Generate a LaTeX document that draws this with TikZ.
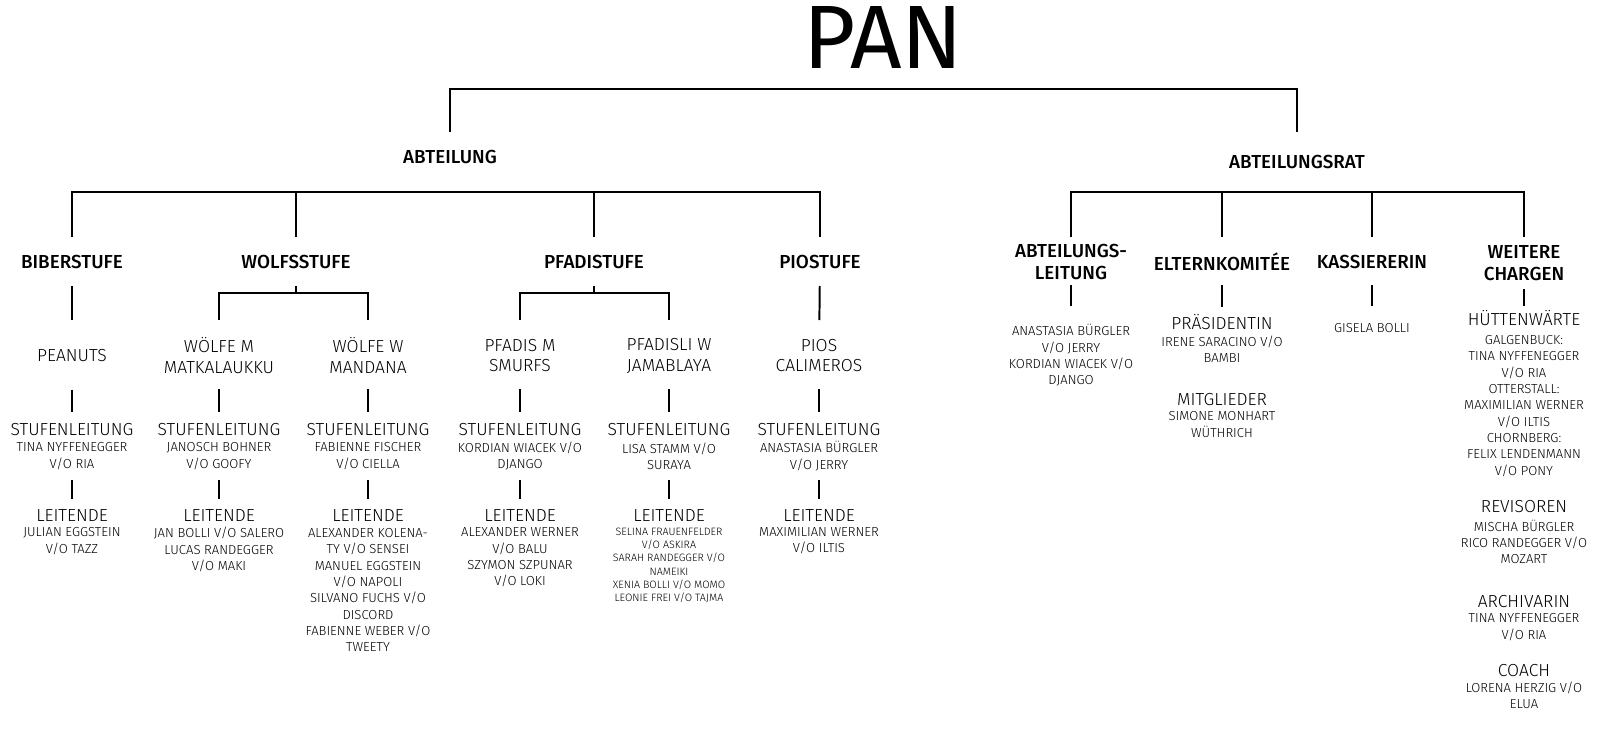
\documentclass[tikz,border=0pt]{standalone}
\usepackage{fontspec}
\setmainfont{Fira Sans}[UprightFont={* Light}, BoldFont={* Medium}]
\newfontfamily\panfont{Fira Sans}
\usepackage{tikz}
\usepackage{xcolor}
\newlength\unitpx
\setlength\unitpx{0.025cm}

\tikzset{
    every node/.style={inner sep=0pt, align=center},
    stage/.style={font=\bfseries\fontsize{13.4}{15.6}\selectfont},
    role/.style={font=\fontsize{12.4}{14.9}\selectfont},
    who/.style={font=\fontsize{9.3}{11.6}\selectfont},
    whosmall/.style={font=\fontsize{7.6}{9.5}\selectfont},
    link/.style={line width=1.4pt}
}

\begin{document}
\begin{tikzpicture}[x=0.025cm, y=-0.025cm]
    \useasboundingbox (0,0) rectangle (1600,730);

    \node[font=\panfont\fontsize{64}{64}\selectfont] (pan) at (883,37) {PAN};
    \node[stage] (abt) at (450,157) {ABTEILUNG};
    \node[stage] (rat) at (1297,162) {ABTEILUNGSRAT};
    \coordinate (panbar) at (883,89);
    \draw[link] ([yshift=25\unitpx]abt.center) |- (panbar) -| ([yshift=30\unitpx]rat.center);

    % Abteilung
    \foreach \nm/\x/\txt in {biber/72/BIBERSTUFE, wolf/296/WOLFSSTUFE,
        pfadi/594/PFADISTUFE, pio/820/PIOSTUFE}
        \node[stage] (\nm) at (\x,262) {\txt};
    \coordinate (abtbar) at (450,192);
    \draw[link] ([yshift=25\unitpx]biber.center) |- (pio |- abtbar) -- ([yshift=25\unitpx]pio.center);
    \foreach \nm in {wolf, pfadi}
        \draw[link] ([yshift=25\unitpx]\nm.center) -- (\nm |- abtbar);

    \node[role] (peanuts) at (72,356) {PEANUTS};
    \node[role] (wolfm) at (219,355.5) {WÖLFE M\\MATKALAUKKU};
    \node[role] (wolfw) at (368,355.5) {WÖLFE W\\MANDANA};
    \node[role] (pfadim) at (520,355.5) {PFADIS M\\SMURFS};
    \node[role] (pfadiw) at (669,355.5) {PFADISLI W\\JAMABLAYA};
    \node[role] (pios) at (819,355.5) {PIOS\\CALIMEROS};

    \draw[link, shorten <=24\unitpx, shorten >=36\unitpx] (biber.center) -- (peanuts.center);
    \draw[link, shorten <=24\unitpx, shorten >=35.5\unitpx] (pio.center) -- (pios.center);
    \coordinate (wolfbar) at (296,293);
    \coordinate (pfadibar) at (594,293);
    \draw[link] ([yshift=-24\unitpx]wolf.center) -- (wolfbar);
    \draw[link] ([yshift=35.5\unitpx]wolfm.center) |- (wolfw |- wolfbar) -- ([yshift=35.5\unitpx]wolfw.center);
    \draw[link] ([yshift=-24\unitpx]pfadi.center) -- (pfadibar);
    \draw[link] ([yshift=35.5\unitpx]pfadim.center) |- (pfadiw |- pfadibar) -- ([yshift=35.5\unitpx]pfadiw.center);

    \foreach \nm/\x in {peanuts/72, wolfm/219, wolfw/368, pfadim/520, pfadiw/669, pios/819} {
        \node[role] (\nm-sl) at (\x,430) {STUFENLEITUNG};
        \node[role] (\nm-lt) at (\x,516) {LEITENDE};
    }

    \node[who] (peanuts-sln) at (72,456) {TINA NYFFENEGGER\\V/O RIA};
    \node[who] (wolfm-sln) at (219,456) {JANOSCH BOHNER\\V/O GOOFY};
    \node[who] (wolfw-sln) at (368,456) {FABIENNE FISCHER\\V/O CIELLA};
    \node[who] (pfadim-sln) at (520,456) {KORDIAN WIACEK V/O\\DJANGO};
    \node[who] (pfadiw-sln) at (669,456) {LISA STAMM V/O\\SURAYA};
    \node[who] (pios-sln) at (819,456) {ANASTASIA BÜRGLER\\V/O JERRY};

    \node[who] (peanuts-ltn) at (72,541) {JULIAN EGGSTEIN\\V/O TAZZ};
    \node[who] (wolfm-ltn) at (219,549.5) {JAN BOLLI V/O SALERO\\LUCAS RANDEGGER\\V/O MAKI};
    \node[who] (wolfw-ltn) at (368,590) {ALEXANDER KOLENA-\\TY V/O SENSEI\\MANUEL EGGSTEIN\\V/O NAPOLI\\SILVANO FUCHS V/O\\DISCORD\\FABIENNE WEBER V/O\\TWEETY};
    \node[who] (pfadim-ltn) at (520,557.5) {ALEXANDER WERNER\\V/O BALU\\SZYMON SZPUNAR\\V/O LOKI};
    \node[whosmall] (pfadiw-ltn) at (669,565.5) {SELINA FRAUENFELDER\\V/O ASKIRA\\SARAH RANDEGGER V/O\\NAMEIKI\\XENIA BOLLI V/O MOMO\\LEONIE FREI V/O TAJMA};
    \node[who] (pios-ltn) at (819,541) {MAXIMILIAN WERNER\\V/O ILTIS};

    \foreach \nm in {peanuts, wolfm, wolfw, pfadim, pfadiw, pios} {
        \draw[link, shorten <=33.5\unitpx, shorten >=18\unitpx] (\nm.center) -- (\nm-sl.center);
        \draw[link, shorten <=24\unitpx, shorten >=17\unitpx] (\nm-sln.center) -- (\nm-lt.center);
    }

    % Abteilungsrat
    \node[stage] (leit) at (1071,262) {ABTEILUNGS-\\LEITUNG};
    \node[stage] (eltern) at (1222,262) {ELTERNKOMITÉE};
    \node[stage] (kasse) at (1372,262) {KASSIERERIN};
    \node[stage] (chargen) at (1524,263) {WEITERE\\CHARGEN};
    \coordinate (ratbar) at (1297,192);
    \draw[link] ([yshift=25\unitpx]leit.center) |- (chargen |- ratbar) -- ([yshift=26\unitpx]chargen.center);
    \foreach \nm in {eltern, kasse}
        \draw[link] ([yshift=25\unitpx]\nm.center) -- (\nm |- ratbar);

    \node[who] (leit-n) at (1071,355.5) {ANASTASIA BÜRGLER\\V/O JERRY\\KORDIAN WIACEK V/O\\DJANGO};
    \node[role] (praes) at (1222,322.5) {PRÄSIDENTIN};
    \node[who] (praes-n) at (1222,349.5) {IRENE SARACINO V/O\\BAMBI};
    \node[role] (mitgl) at (1222,400) {MITGLIEDER};
    \node[who] (mitgl-n) at (1222,424.5) {SIMONE MONHART\\WÜTHRICH};
    \node[who] (kasse-n) at (1372,328) {GISELA BOLLI};
    \node[role] (huette) at (1524,318) {HÜTTENWÄRTE};
    \node[who] (huette-n) at (1524,406) {GALGENBUCK:\\TINA NYFFENEGGER\\V/O RIA\\OTTERSTALL:\\MAXIMILIAN WERNER\\V/O ILTIS\\CHORNBERG:\\FELIX LENDENMANN\\V/O PONY};
    \node[role] (revis) at (1524,507) {REVISOREN};
    \node[who] (revis-n) at (1524,542) {MISCHA BÜRGLER\\RICO RANDEGGER V/O\\MOZART};
    \node[role] (archiv) at (1524,602) {ARCHIVARIN};
    \node[who] (archiv-n) at (1524,627) {TINA NYFFENEGGER\\V/O RIA};
    \node[role] (coach) at (1524,671) {COACH};
    \node[who] (coach-n) at (1524,695.5) {LORENA HERZIG V/O\\ELUA};

    \draw[link, shorten <=23\unitpx, shorten >=49.5\unitpx] (leit.center) -- (leit-n.center);
    \draw[link, shorten <=23\unitpx, shorten >=15.5\unitpx] (eltern.center) -- (praes.center);
    \draw[link, shorten <=23\unitpx, shorten >=22\unitpx] (kasse.center) -- (kasse-n.center);
    \draw[link, shorten <=26\unitpx, shorten >=12\unitpx] (chargen.center) -- (huette.center);
\end{tikzpicture}
\end{document}
